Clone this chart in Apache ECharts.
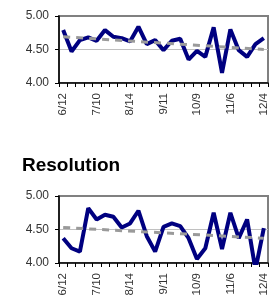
<!DOCTYPE html>
<html>
<head>
<meta charset="utf-8">
<script src="https://cdn.jsdelivr.net/npm/echarts@6/dist/echarts.min.js"></script>
<style>
  html, body { margin: 0; padding: 0; background: #fff; }
  #chart { width: 274px; height: 303px; }
</style>
</head>
<body>
<div id="chart"></div>
<script>
var myChart = echarts.init(document.getElementById('chart'));

// weekly survey dates (every 4th one labelled)
var weeks = ['6/12', '6/19', '6/26', '7/3', '7/10', '7/17', '7/24', '7/31', '8/14',
    '8/21', '8/28', '9/4', '9/11', '9/18', '9/25', '10/2', '10/9', '10/16', '10/23',
    '10/30', '11/6', '11/13', '11/20', '11/27', '12/4'];

var topScores = [4.79, 4.47, 4.64, 4.68, 4.63, 4.79, 4.69, 4.67, 4.62, 4.84, 4.58, 4.64, 4.49,
    4.63, 4.66, 4.35, 4.48, 4.39, 4.83, 4.15, 4.80, 4.49, 4.39, 4.58, 4.67];
var resolutionScores = [4.37, 4.22, 4.17, 4.82, 4.65, 4.72, 4.69, 4.53, 4.59, 4.78, 4.40, 4.17, 4.54,
    4.59, 4.55, 4.37, 4.06, 4.22, 4.75, 4.21, 4.75, 4.37, 4.65, 3.90, 4.52];

// trend line end points [start, end]
var topTrend = [4.69, 4.50];
var resolutionTrend = [4.53, 4.37];

var yTicks = [4.00, 4.50, 5.00];

function trendLine(t) {
    return {
        silent: true,
        symbol: 'none',
        label: { show: false },
        lineStyle: { color: '#9a9a9a', width: 3, type: [7, 6] },
        data: [[
            { coord: [weeks[0], t[0]] },
            { coord: [weeks[weeks.length - 1], t[1]] }
        ]]
    };
}

function xAxis(idx) {
    return {
        type: 'category',
        gridIndex: idx,
        data: weeks,
        boundaryGap: true,
        axisLine: { lineStyle: { color: '#000', width: 1.5 } },
        axisTick: { show: true, interval: 0, length: 4, lineStyle: { color: '#000' } },
        axisLabel: {
            interval: 3, rotate: 90, margin: 10,
            fontFamily: 'Liberation Sans', fontSize: 11.5, color: '#333'
        },
        splitLine: { show: false }
    };
}

function yAxis(idx) {
    return {
        type: 'value',
        gridIndex: idx,
        min: yTicks[0],
        max: yTicks[yTicks.length - 1],
        interval: 0.5,
        axisLine: { show: true, lineStyle: { color: '#000', width: 1.5 } },
        axisTick: { show: true, length: 4, lineStyle: { color: '#000' } },
        axisLabel: {
            margin: 10, fontFamily: 'Liberation Sans', fontSize: 12, color: '#333',
            formatter: function (v) { return v.toFixed(2); }
        },
        splitLine: { show: true, lineStyle: { color: ['#c0c0c0', '#c0c0c0', '#808080'], width: 1 } }
    };
}

option = {
    backgroundColor: '#fff',
    animation: false,
    title: {
        text: 'Resolution',
        left: 17,
        top: 151,
        textStyle: { fontFamily: 'Liberation Sans', fontSize: 19, fontWeight: 'bold', color: '#000' }
    },
    grid: [
        { left: 59, right: 6, top: 16, height: 67, show: true, borderColor: '#808080', borderWidth: 2 },
        { left: 59, right: 6, top: 196, height: 67, show: true, borderColor: '#808080', borderWidth: 2 }
    ],
    xAxis: [xAxis(0), xAxis(1)],
    yAxis: [yAxis(0), yAxis(1)],
    series: [
        {
            name: 'Overall',
            type: 'line',
            xAxisIndex: 0,
            yAxisIndex: 0,
            data: topScores,
            symbol: 'none',
            lineStyle: { color: '#000080', width: 4 },
            markLine: trendLine(topTrend),
            z: 3
        },
        {
            name: 'Resolution',
            type: 'line',
            xAxisIndex: 1,
            yAxisIndex: 1,
            data: resolutionScores,
            symbol: 'none',
            clip: true,
            lineStyle: { color: '#000080', width: 4 },
            markLine: trendLine(resolutionTrend),
            z: 3
        }
    ]
};

myChart.setOption(option);
</script>
</body>
</html>
